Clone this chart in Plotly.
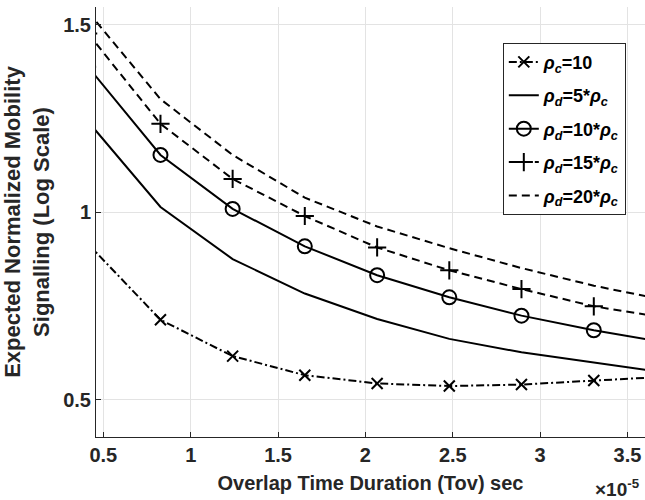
import plotly.graph_objects as go

# x in units of 1e-5 s
x_tov = [0.413, 0.827, 1.240, 1.653, 2.067, 2.480, 2.893, 3.307, 3.720]

rho_c_10 = [0.915, 0.713, 0.616, 0.565, 0.543, 0.536, 0.540, 0.551, 0.561]
rho_d_5 = [1.242, 1.014, 0.875, 0.783, 0.715, 0.662, 0.626, 0.598, 0.572]
rho_d_10 = [1.388, 1.153, 1.009, 0.909, 0.832, 0.773, 0.724, 0.685, 0.652]
rho_d_15 = [1.477, 1.236, 1.089, 0.990, 0.906, 0.845, 0.795, 0.749, 0.718]
rho_d_20 = [1.535, 1.302, 1.153, 1.039, 0.962, 0.904, 0.851, 0.804, 0.765]

names = [
    "<b><i>ρ</i><sub><i>c</i></sub>=10</b>",
    "<b><i>ρ</i><sub><i>d</i></sub>=5*<i>ρ</i><sub><i>c</i></sub></b>",
    "<b><i>ρ</i><sub><i>d</i></sub>=10*<i>ρ</i><sub><i>c</i></sub></b>",
    "<b><i>ρ</i><sub><i>d</i></sub>=15*<i>ρ</i><sub><i>c</i></sub></b>",
    "<b><i>ρ</i><sub><i>d</i></sub>=20*<i>ρ</i><sub><i>c</i></sub></b>",
]
x_ticks = [0.5, 1, 1.5, 2, 2.5, 3, 3.5]
y_ticks = [0.5, 1, 1.5]

series = [rho_c_10, rho_d_5, rho_d_10, rho_d_15, rho_d_20]
dashes = ["8px,3px,2px,3px", "solid", "solid", "8px,5px", "8px,5px"]
symbols = ["x-thin-open", None, "circle-open", "cross-thin-open", None]
msizes = [11, 0, 14, 13, 0]

fig = go.Figure()
for i, (ys, nm) in enumerate(zip(series, names)):
    mode = "lines+markers" if symbols[i] else "lines"
    kw = {}
    if symbols[i]:
        kw["marker"] = dict(symbol=symbols[i], size=msizes[i], color="black",
                            line=dict(color="black", width=2))
    fig.add_trace(go.Scatter(
        x=x_tov, y=ys, name=nm, mode=mode, legendgroup=f"g{i}",
        line=dict(color="black", width=2, dash=dashes[i]), **kw))

FAM = "Liberation Sans, Arial, sans-serif"
axis_font = dict(family=FAM, size=20, color="#262626")
fig.update_layout(
    width=645, height=500,
    margin=dict(l=96, r=0, t=7, b=63),
    plot_bgcolor="white", paper_bgcolor="white",
    font=dict(family=FAM, color="#262626"),
    showlegend=True,
    legend=dict(x=0.741, y=0.917, xanchor="left", yanchor="top",
                bgcolor="white", bordercolor="#262626", borderwidth=1,
                font=dict(family=FAM, size=18, color="black"), tracegroupgap=7,
                traceorder="grouped"),
    xaxis=dict(range=[0.458, 3.6], tickvals=x_ticks,
               ticktext=[f"<b>{v:g}</b>" for v in x_ticks],
               showgrid=True, gridcolor="#e3e3e3", gridwidth=1,
               showline=True, linecolor="#262626", linewidth=1,
               ticks="inside", ticklen=5, tickcolor="#262626",
               tickfont=axis_font, zeroline=False,
               title=dict(text="<b>Overlap Time Duration (Tov) sec</b>",
                          font=dict(family=FAM, size=20, color="#262626"), standoff=10)),
    yaxis=dict(range=[0.40, 1.548], tickvals=y_ticks,
               ticktext=[f"<b>{v:g}</b>" for v in y_ticks],
               showgrid=True, gridcolor="#e3e3e3", gridwidth=1,
               showline=True, linecolor="#262626", linewidth=1,
               ticks="inside", ticklen=5, tickcolor="#262626",
               tickfont=axis_font, zeroline=False,
               title=dict(text="<b>Expected Normalized Mobility<br>Signalling (Log Scale)</b>",
                          font=dict(family=FAM, size=22, color="#262626"), standoff=7)),
    annotations=[dict(text="<b>×10<sup>-5</sup></b>", xref="paper", yref="paper",
                      x=0.995, y=-0.118, xanchor="right", yanchor="middle",
                      showarrow=False, font=dict(family=FAM, size=19, color="#262626"))],
)

fig.write_html("out.html")
